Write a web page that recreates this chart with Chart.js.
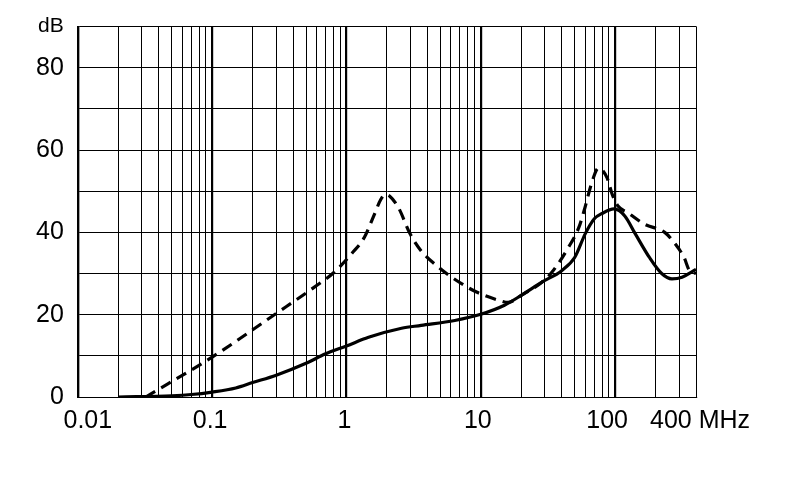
<!DOCTYPE html>
<html>
<head>
<meta charset="utf-8">
<script src="https://cdn.jsdelivr.net/npm/chart.js@4"></script>
<style>
  html, body { margin: 0; padding: 0; background: #fff; }
  #wrap { width: 790px; height: 489px; }
</style>
</head>
<body>
<div id="wrap"><canvas id="c" width="790" height="489"></canvas></div>
<script>
// Frequencies in MHz, attenuation in dB
const solidFreq = [0.02, 0.05, 0.07, 0.1, 0.15, 0.2, 0.3, 0.5, 0.7, 1, 1.46, 2.57, 3.6, 6.4, 10, 15, 20, 28.5, 40, 50, 60, 70, 80, 98, 118, 141, 180, 222, 265, 315, 380, 400];
const solidDb   = [0, 0.3, 0.6, 1.2, 2.2, 3.5, 5.3, 8.2, 10.5, 12.4, 14.5, 16.7, 17.4, 18.6, 20.1, 22.3, 24.7, 27.9, 30.7, 33.9, 39.7, 43.3, 44.6, 45.7, 44, 39.7, 33.9, 30, 28.7, 29.1, 30.6, 31];

const dashedFreq = [0.032, 0.1, 0.3, 0.577, 0.81, 1.09, 1.36, 1.62, 1.8, 1.95, 2.1, 2.44, 2.97, 3.6, 4.86, 6.6, 9.3, 13.6, 16, 20, 28.5, 33.8, 45, 53.7, 59.6, 66.5, 75, 87, 95, 105, 124, 165, 234, 280, 326, 358, 400];
const dashedDb   = [0, 9.7, 20.3, 26.7, 30.3, 34.8, 38.8, 44.5, 48, 49.2, 48.8, 46, 39.7, 35.5, 31.5, 28.3, 25.5, 23.5, 23, 24.7, 27.9, 30.3, 36.4, 41.2, 46, 51.7, 55.6, 53.3, 49.3, 46.4, 44.8, 42, 40, 37.2, 33.9, 30.7, 30];

// Axis ticks
const xDecades = [0.01, 0.1, 1, 10, 100];
const xLabelValues = [0.01, 0.1, 1, 10, 100, 400];
const xLabelTexts  = ['0.01', '0.1', '1', '10', '100', '400 MHz'];
const xLabelNudge  = [10, -2, -2, -3, -8, 4];
const yTickLabels = { 0: '0', 20: '20', 40: '40', 60: '60', 80: '80', 90: 'dB' };

const xGrid = [];
xDecades.forEach(d => { for (let m = 1; m <= 9; m++) { const v = +(d * m).toPrecision(6); if (v <= 400) xGrid.push(v); } });
xGrid.push(400);
const isDecade = v => xDecades.some(d => Math.abs(d - v) < d * 1e-6);

const FONT = '"Liberation Sans", Arial, sans-serif';

const xLabelPlugin = {
  id: 'xLabels',
  afterDraw(chart) {
    const sx = chart.scales.x, ctx = chart.ctx;
    ctx.save();
    ctx.fillStyle = '#000';
    ctx.font = '25px ' + FONT;
    ctx.textAlign = 'center';
    ctx.textBaseline = 'alphabetic';
    xLabelValues.forEach((v, i) => {
      ctx.fillText(xLabelTexts[i], sx.getPixelForValue(v) + xLabelNudge[i], chart.chartArea.bottom + 31);
    });
    ctx.restore();
  }
};

new Chart(document.getElementById('c'), {
  type: 'line',
  data: {
    datasets: [
      {
        data: solidFreq.map((f, i) => ({ x: f, y: solidDb[i] })),
        borderColor: '#000', borderWidth: 3.2, pointRadius: 0,
        cubicInterpolationMode: 'monotone', fill: false
      },
      {
        data: dashedFreq.map((f, i) => ({ x: f, y: dashedDb[i] })),
        borderColor: '#000', borderWidth: 3.2, pointRadius: 0, borderDash: [11, 7],
        cubicInterpolationMode: 'monotone', fill: false
      }
    ]
  },
  options: {
    responsive: false,
    animation: false,
    devicePixelRatio: 1,
    layout: { padding: { left: 22, right: 94, top: 25, bottom: 92 } },
    plugins: { legend: { display: false }, tooltip: { enabled: false } },
    scales: {
      x: {
        type: 'logarithmic',
        min: 0.01, max: 400,
        afterBuildTicks: s => { s.ticks = xGrid.map(v => ({ value: v })); },
        border: { display: true, color: '#000', width: 1 },
        grid: {
          color: '#000',
          lineWidth: ctx => (ctx.tick && isDecade(ctx.tick.value)) ? 2.2 : 1,
          drawTicks: false
        },
        ticks: { display: false }
      },
      y: {
        min: 0, max: 90,
        border: { display: true, color: '#000', width: 2.2 },
        grid: { color: '#000', lineWidth: 1, drawTicks: false },
        ticks: {
          stepSize: 10, autoSkip: false, padding: 14, color: '#000',
          font: ctx => ({ family: FONT, size: (ctx.tick && ctx.tick.value === 90) ? 21 : 25 }),
          callback: v => (yTickLabels[v] !== undefined ? yTickLabels[v] : '')
        }
      }
    }
  },
  plugins: [xLabelPlugin]
});
</script>
</body>
</html>
